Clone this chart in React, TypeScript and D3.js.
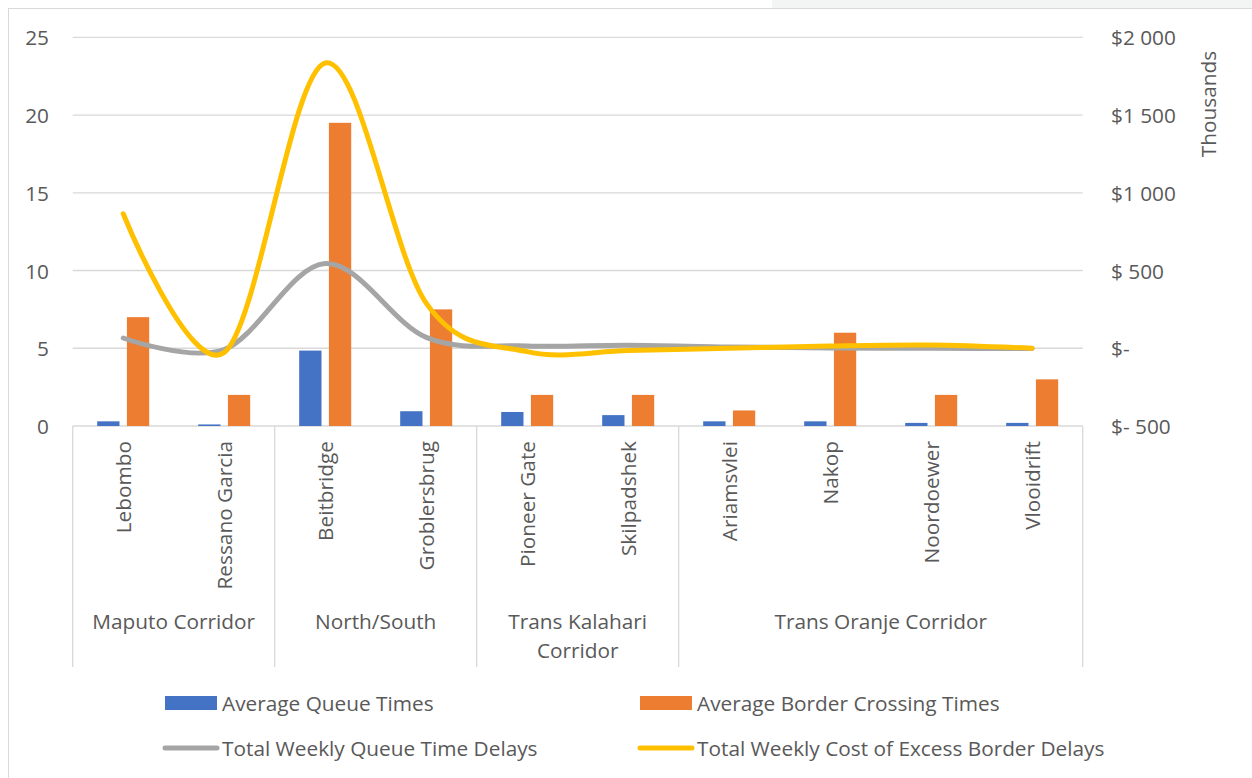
import React from "react";
import * as d3 from "d3";

// Border posts, grouped by corridor
const categories = [
  "Lebombo",
  "Ressano Garcia",
  "Beitbridge",
  "Groblersbrug",
  "Pioneer Gate",
  "Skilpadshek",
  "Ariamsvlei",
  "Nakop",
  "Noordoewer",
  "Vlooidrift",
];
const corridors = [
  { lines: ["Maputo Corridor"], start: 0, end: 2 },
  { lines: ["North/South"], start: 2, end: 4 },
  { lines: ["Trans Kalahari", "Corridor"], start: 4, end: 6 },
  { lines: ["Trans Oranje Corridor"], start: 6, end: 10 },
];

// Hours (primary axis)
const avgQueueTimes = [0.3, 0.1, 4.85, 0.95, 0.9, 0.7, 0.3, 0.3, 0.2, 0.2];
const avgBorderCrossingTimes = [7, 2, 19.5, 7.5, 2, 2, 1, 6, 2, 3];
// Thousands of dollars (secondary axis)
const weeklyQueueTimeDelays = [66, -8, 545, 70, 15, 20, 8, 2, 0, -2];
const weeklyCostExcessDelays = [865, -28, 1835, 290, -22, -15, 0, 15, 21, 0];

const leftTicks = [0, 5, 10, 15, 20, 25];
const rightTicks = [-500, 0, 500, 1000, 1500, 2000];
const rightTickLabels = ["$- 500", "$-", "$ 500", "$1 000", "$1 500", "$2 000"];

const W = 1252;
const H = 778;
const plotLeft = 72.7;
const plotRight = 1082.7;
const plotTop = 37.3;
const plotBottom = 426;
const catAxisBottom = 667;

const FONT = "'Open Sans', Lato, sans-serif";
const FS = 20.8;
const TEXT = "#595959";
const GRID = "#d9d9d9";
const BLUE = "#4472C4";
const ORANGE = "#ED7D31";
const GREY = "#A5A5A5";
const GOLD = "#FFC000";

export default function App() {
  const x = d3.scaleBand<string>().domain(categories).range([plotLeft, plotRight]).padding(0);
  const xSeries = d3.scaleBand<number>().domain([0, 1]).range([-26, 26]).paddingInner(0.25);
  const yLeft = d3.scaleLinear().domain([0, 25]).range([plotBottom, plotTop]);
  const yRight = d3.scaleLinear().domain([-500, 2000]).range([plotBottom, plotTop]);
  const cx = (c: string) => (x(c) as number) + x.bandwidth() / 2;

  const line = d3
    .line<number>()
    .x((_, i) => cx(categories[i]))
    .y((v) => yRight(v))
    .curve(d3.curveCardinal.tension(0));

  const boundaryIdx = [0, 2, 4, 6, 10];
  const boundaries = boundaryIdx.map((i) => plotLeft + i * x.bandwidth());

  const legend = [
    { label: "Average Queue Times", color: BLUE, kind: "rect", x: 165, y: 703 },
    { label: "Average Border Crossing Times", color: ORANGE, kind: "rect", x: 640, y: 703 },
    { label: "Total Weekly Queue Time Delays", color: GREY, kind: "line", x: 165, y: 748 },
    { label: "Total Weekly Cost of Excess Border Delays", color: GOLD, kind: "line", x: 640, y: 748 },
  ];

  return (
    <svg
      width={W}
      height={H}
      style={{ position: "absolute", left: 0, top: 0, background: "#fff" }}
      fontFamily={FONT}
    >
      <rect x={772} y={0} width={W - 772} height={8} fill="#f3f4f4" />
      <rect x={8.5} y={8.5} width={W + 20} height={H + 20} fill="#fff" stroke={GRID} strokeWidth={1} />

      {/* gridlines */}
      {leftTicks.map((t) => (
        <line key={t} x1={plotLeft} x2={plotRight} y1={yLeft(t)} y2={yLeft(t)} stroke={GRID} strokeWidth={1.3} />
      ))}

      {/* category axis separators */}
      {boundaries.map((bx, i) => (
        <line key={i} x1={bx} x2={bx} y1={plotBottom} y2={catAxisBottom} stroke={GRID} strokeWidth={1.3} />
      ))}

      {/* bars */}
      {categories.map((c, i) => (
        <g key={c}>
          <rect
            x={cx(c) + (xSeries(0) as number)}
            y={yLeft(avgQueueTimes[i])}
            width={xSeries.bandwidth()}
            height={yLeft(0) - yLeft(avgQueueTimes[i])}
            fill={BLUE}
          />
          <rect
            x={cx(c) + (xSeries(1) as number)}
            y={yLeft(avgBorderCrossingTimes[i])}
            width={xSeries.bandwidth()}
            height={yLeft(0) - yLeft(avgBorderCrossingTimes[i])}
            fill={ORANGE}
          />
        </g>
      ))}

      {/* smoothed lines on the secondary axis */}
      <path d={line(weeklyQueueTimeDelays) || ""} fill="none" stroke={GREY} strokeWidth={5} strokeLinecap="round" />
      <path d={line(weeklyCostExcessDelays) || ""} fill="none" stroke={GOLD} strokeWidth={5} strokeLinecap="round" />

      {/* left axis labels */}
      {leftTicks.map((t) => (
        <text key={t} x={49} y={yLeft(t)} textAnchor="end" dominantBaseline="central" fontSize={FS} fill={TEXT}>
          {t}
        </text>
      ))}

      {/* right axis labels */}
      {rightTicks.map((t, i) => (
        <text key={t} x={1111} y={yRight(t)} textAnchor="start" dominantBaseline="central" fontSize={FS} fill={TEXT}>
          {rightTickLabels[i]}
        </text>
      ))}
      <text
        transform={`translate(1208,104) rotate(-90)`}
        textAnchor="middle"
        dominantBaseline="central"
        fontSize={FS}
        fill={TEXT}
      >
        Thousands
      </text>

      {/* category labels */}
      {categories.map((c) => (
        <text
          key={c}
          transform={`translate(${cx(c)},441) rotate(-90)`}
          textAnchor="end"
          dominantBaseline="central"
          fontSize={FS}
          fill={TEXT}
        >
          {c}
        </text>
      ))}

      {/* corridor labels */}
      {corridors.map((g) => {
        const mx = (boundaries[boundaryIdx.indexOf(g.start)] + boundaries[boundaryIdx.indexOf(g.end)]) / 2;
        return (
          <text key={g.lines[0]} x={mx} textAnchor="middle" fontSize={FS} fill={TEXT}>
            {g.lines.map((l, j) => (
              <tspan key={l} x={mx} y={629 + j * 29}>
                {l}
              </tspan>
            ))}
          </text>
        );
      })}

      {/* legend */}
      {legend.map((l) => (
        <g key={l.label}>
          {l.kind === "rect" ? (
            <rect x={l.x} y={l.y - 7} width={52} height={14} fill={l.color} />
          ) : (
            <line x1={l.x} x2={l.x + 52} y1={l.y} y2={l.y} stroke={l.color} strokeWidth={5} strokeLinecap="round" />
          )}
          <text x={l.x + 57} y={l.y} dominantBaseline="central" fontSize={FS} fill={TEXT}>
            {l.label}
          </text>
        </g>
      ))}
    </svg>
  );
}
